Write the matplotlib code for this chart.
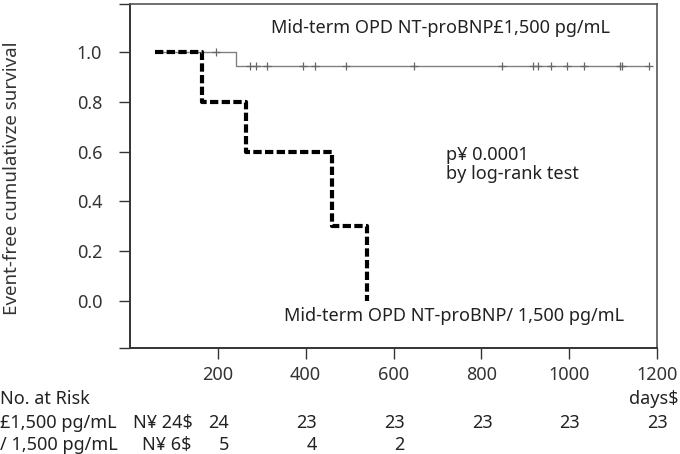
import matplotlib
matplotlib.use("Agg")
import matplotlib.pyplot as plt
from matplotlib import transforms

plt.rcParams['font.family'] = ['Noto Sans', 'DejaVu Sans']

# Low NT-proBNP group (<=1,500): step curve
low_times = [57, 241, 1182]
low_surv = [1.0, 0.945, 0.945]
low_censor_t = [196, 273, 287, 312, 394, 421, 492, 647, 847, 918, 929, 959, 995, 1034, 1115, 1120, 1182]
low_censor_s = [1.0] + [0.945] * 16

# High NT-proBNP group (>1,500)
high_times = [57, 164, 263, 460, 540]
high_surv = [1.0, 0.8, 0.6, 0.3, 0.0]

xticks = [200, 400, 600, 800, 1000, 1200]
yticks = [0.0, 0.2, 0.4, 0.6, 0.8, 1.0]
risk_low = ['24', '23', '23', '23', '23', '23']
risk_high = ['5', '4', '2']

FS = 13
TC = '#222222'

fig = plt.figure(figsize=(6.8, 4.54), dpi=100)
ax = fig.add_axes([130/680, 1-348/454, 527/680, 344/454])
ax.set_xlim(0, 1200)
ax.set_ylim(-0.19, 1.195)

def steps(t, s):
    xs, ys = [t[0]], [s[0]]
    for i in range(1, len(t)):
        xs += [t[i], t[i]]
        ys += [s[i-1], s[i]]
    return xs, ys

lx, ly = steps(low_times, low_surv)
ax.plot(lx, ly, color='#808080', lw=1.0, zorder=2)
ax.plot(low_censor_t, low_censor_s, linestyle='none', marker='+', ms=5.5,
        mew=0.9, color='#666666', zorder=3)

hx, hy = steps(high_times, high_surv)
ax.plot(hx, hy, color='black', lw=3.0, linestyle=(0, (2.0, 0.8)), zorder=4)

ylim = ax.get_ylim()
ax.set_yticks([ylim[0]] + yticks + [ylim[1]])
ax.set_yticklabels([''] + [f'{v:.1f}' for v in yticks] + [''])
ax.set_xticks(xticks)
ax.set_xticklabels([str(v) for v in xticks])
ax.tick_params(axis='y', direction='out', length=8, width=1.0, pad=12,
               labelsize=FS, colors='#333333')
ax.tick_params(axis='x', direction='out', length=8, width=1.0, pad=5,
               labelsize=FS, colors='#333333')
for side in ['left', 'bottom']:
    ax.spines[side].set_color('#333333')
    ax.spines[side].set_linewidth(1.4)
for side in ['top', 'right']:
    ax.spines[side].set_color('#555555')
    ax.spines[side].set_linewidth(1.2)

fig.text(12/680, 1-178/454, 'Event-free cumulativze survival', rotation=90,
         ha='center', va='center', fontsize=13.5, color='#333333')

ax.text(706, 1.10, 'Mid-term OPD NT-proBNP£1,500 pg/mL', ha='center', va='center',
        fontsize=FS, color=TC)
ax.text(739, -0.06, 'Mid-term OPD NT-proBNP/ 1,500 pg/mL', ha='center', va='center',
        fontsize=FS, color=TC)
ax.text(720, 0.589, 'p¥ 0.0001', ha='left', va='center', fontsize=FS, color=TC)
ax.text(720, 0.512, 'by log-rank test', ha='left', va='center', fontsize=FS, color=TC)

# number at risk table
trans = transforms.blended_transform_factory(ax.transData, fig.transFigure)
fig.text(0, 1-399/454, 'No. at Risk', ha='left', va='center', fontsize=FS, color=TC)
fig.text(679/680, 1-399/454, 'days$', ha='right', va='center', fontsize=FS, color=TC)
fig.text(0, 1-423/454, '£1,500 pg/mL', ha='left', va='center', fontsize=FS, color=TC)
fig.text(133/680, 1-423/454, 'N¥ 24$', ha='left', va='center', fontsize=FS, color=TC)
fig.text(0, 1-445/454, '/ 1,500 pg/mL', ha='left', va='center', fontsize=FS, color=TC)
fig.text(142/680, 1-445/454, 'N¥ 6$', ha='left', va='center', fontsize=FS, color=TC)
for t, v in zip(xticks, risk_low):
    ax.text(t + 25, 1-423/454, v, transform=trans, ha='right', va='center',
            fontsize=FS, color=TC, clip_on=False)
for t, v in zip(xticks, risk_high):
    ax.text(t + 25, 1-445/454, v, transform=trans, ha='right', va='center',
            fontsize=FS, color=TC, clip_on=False)

fig.savefig('out.png', dpi=100)
